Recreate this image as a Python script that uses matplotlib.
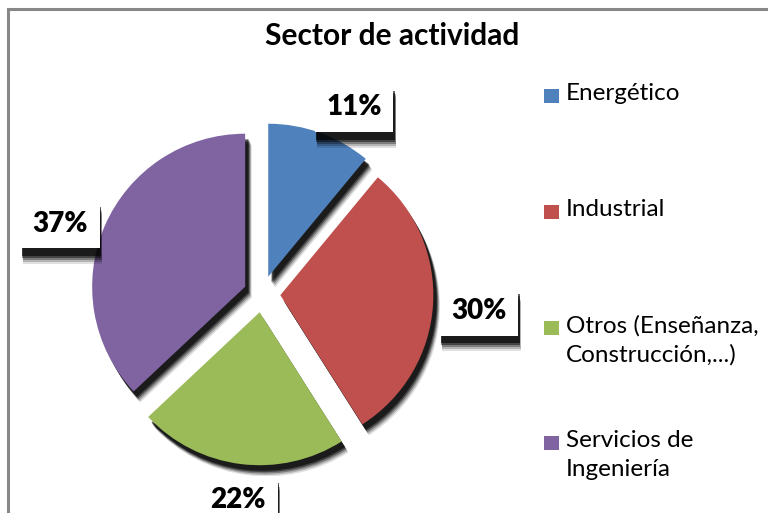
import numpy as np
import matplotlib
matplotlib.use("Agg")
import matplotlib.pyplot as plt
import matplotlib.patheffects as pe
import matplotlib.transforms as mtransforms
from matplotlib.patches import Rectangle

plt.rcParams['font.family'] = ['Lato', 'DejaVu Sans']

# data
sectores = ['Energético', 'Industrial', 'Otros (Enseñanza,\nConstrucción,...)',
            'Servicios de\nIngeniería']
porcentajes = [11, 30, 22, 37]
colores = ['#4F81BD', '#C0504D', '#9BBB59', '#8064A2']

W, H = 768, 513
fig = plt.figure(figsize=(W/100, H/100), dpi=100)

# frame of the chart area
fig.patches.append(Rectangle((7.5/W, -0.1), 2, 1.1 - 9/H, transform=fig.transFigure,
                             fill=False, ec='#888888', lw=2.2))

# pie axes: centre at (262, 294) px, radius 153 px
lim = 1.5
side = 2*lim*153
ax = fig.add_axes([(262 - side/2)/W, (H - 294 - side/2)/H, side/W, side/H])

def sombra(dx=0.6, dy=1.0):
    efs = []
    for k, a in [(8, 0.12), (7, 0.2), (6, 0.3), (5, 0.45), (4, 0.6)]:
        efs.append(pe.SimplePatchShadow(offset=(k*dx, -k*dy), shadow_rgbFace='black', alpha=a))
    efs.append(pe.Normal())
    return efs

wedges, texts, autotexts = ax.pie(porcentajes, colors=colores, startangle=90, counterclock=False,
                                  explode=[0.12]*4, autopct='%1.0f%%', radius=1,
                                  textprops=dict(fontsize=20, fontweight='heavy', color='black'))
for w in wedges:
    w.set_path_effects(sombra())

# labels outside the slices, box anchored on the side facing the pie (Excel style)
bajar = mtransforms.offset_copy(ax.transData, fig=fig, x=0, y=-5, units='dots')
for w, t in zip(wedges, autotexts):
    ang = np.deg2rad((w.theta1 + w.theta2) / 2)
    c, s = np.cos(ang), np.sin(ang)
    t.set_position((1.24*c, 1.24*s))
    t.set_transform(bajar)
    t.set_ha('left' if c > 0.3 else 'right' if c < -0.3 else 'center')
    t.set_va('bottom' if s > 0.5 else 'top' if s < -0.5 else 'center')
    t.set_bbox(dict(boxstyle='square,pad=0.42', fc='white', ec='none'))
    t.get_bbox_patch().set_path_effects(sombra(0.25, 1.4))

ax.set_xlim(-lim, lim)
ax.set_ylim(-lim, lim)
ax.set_aspect('equal')
ax.axis('off')

fig.text(392/W, 1 - 36/H, 'Sector de actividad', ha='center', va='center',
         fontsize=21.5, fontweight='bold')

# legend, laid out like the original
leg_y = [96, 212, 328, 443]
for lab, col, y in zip(sectores, colores, leg_y):
    fig.patches.append(Rectangle((544/W, 1 - (y + 7)/H), 15/W, 14/H,
                                 transform=fig.transFigure, fc=col, ec='none'))
    fig.text(566/W, 1 - (y - 13)/H, lab, ha='left', va='top', fontsize=17.5,
             linespacing=1.45)

fig.savefig('out.png', dpi=100, facecolor='white')
